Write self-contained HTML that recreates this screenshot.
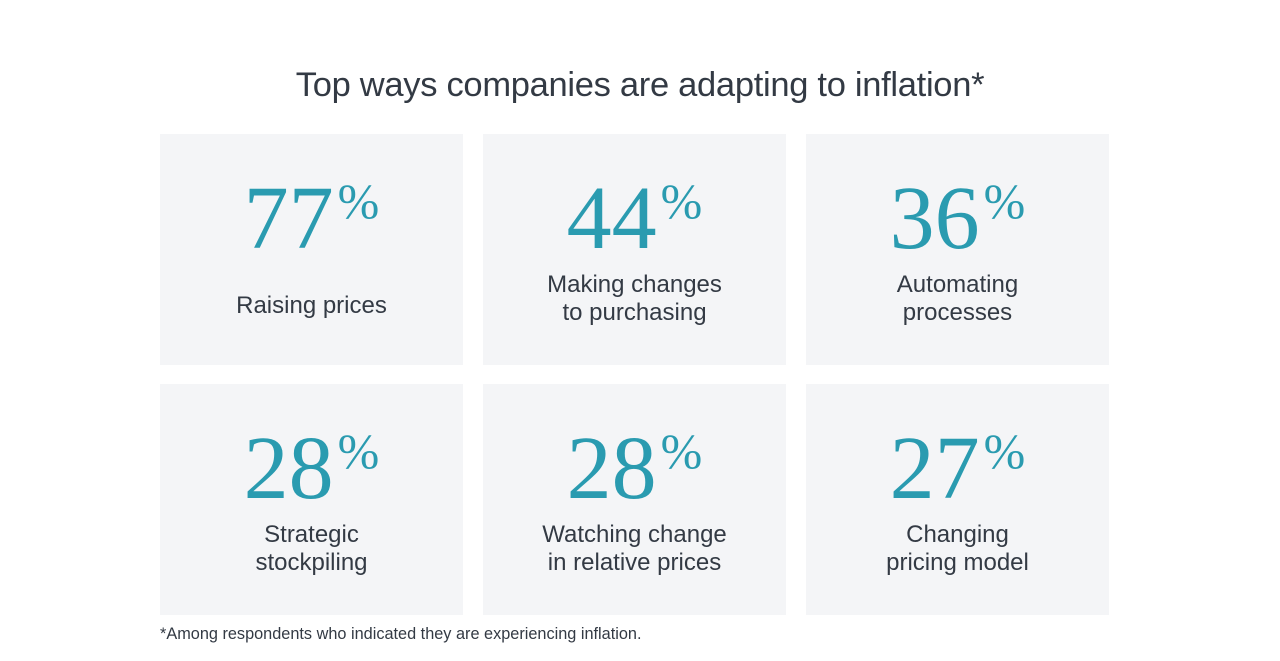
<!DOCTYPE html>
<html><head><meta charset="utf-8"><style>
body{margin:0;width:1280px;height:661px;background:#fff;font-family:"Liberation Sans",sans-serif;position:relative;overflow:hidden}
.title{position:absolute;top:66px;left:0;width:1280px;text-align:center;font-size:34.5px;color:#333a44;font-weight:300;letter-spacing:-0.3px}
.card{position:absolute;width:303px;height:231px;background:#f4f5f7}
.num{position:absolute;left:0;width:100%;text-align:center;font-family:"Liberation Serif",serif;color:#2a9bb0;font-size:90px;line-height:1}
.num sup{font-size:50px;vertical-align:0;position:relative;top:-30px;margin-left:4px}
.lab{position:absolute;left:0;width:100%;text-align:center;font-size:24px;line-height:28px;color:#333a44}
.foot{position:absolute;left:160px;top:625px;font-size:16.3px;color:#333a44}
</style></head><body>
<div class="title">Top ways companies are adapting to inflation*</div>
<div id="cards"></div>
<div class="foot">*Among respondents who indicated they are experiencing inflation.</div>
<script>
const categories=["Raising prices","Making changes|to purchasing","Automating|processes","Strategic|stockpiling","Watching change|in relative prices","Changing|pricing model"];
const values=[77,44,36,28,28,27];
const root=document.getElementById('cards');
const xs=[160,483,806], ys=[134,384];
values.forEach((v,i)=>{
  const c=document.createElement('div');
  c.className='card';
  
  
  c.style.left=xs[i%3]+'px';c.style.top=ys[Math.floor(i/3)]+'px';
  const n=document.createElement('div');
  n.className='num';
  
  
  n.style.top='40px';
  n.innerHTML=v+'<sup>%</sup>';
  const lines=categories[i].split('|');
  const l=document.createElement('div');
  l.className='lab';
  
  
  l.style.top=(lines.length===1?158:137)+'px';
  l.innerHTML=lines.join('<br>');
  c.appendChild(n);c.appendChild(l);root.appendChild(c);
});
</script>
</body></html>
